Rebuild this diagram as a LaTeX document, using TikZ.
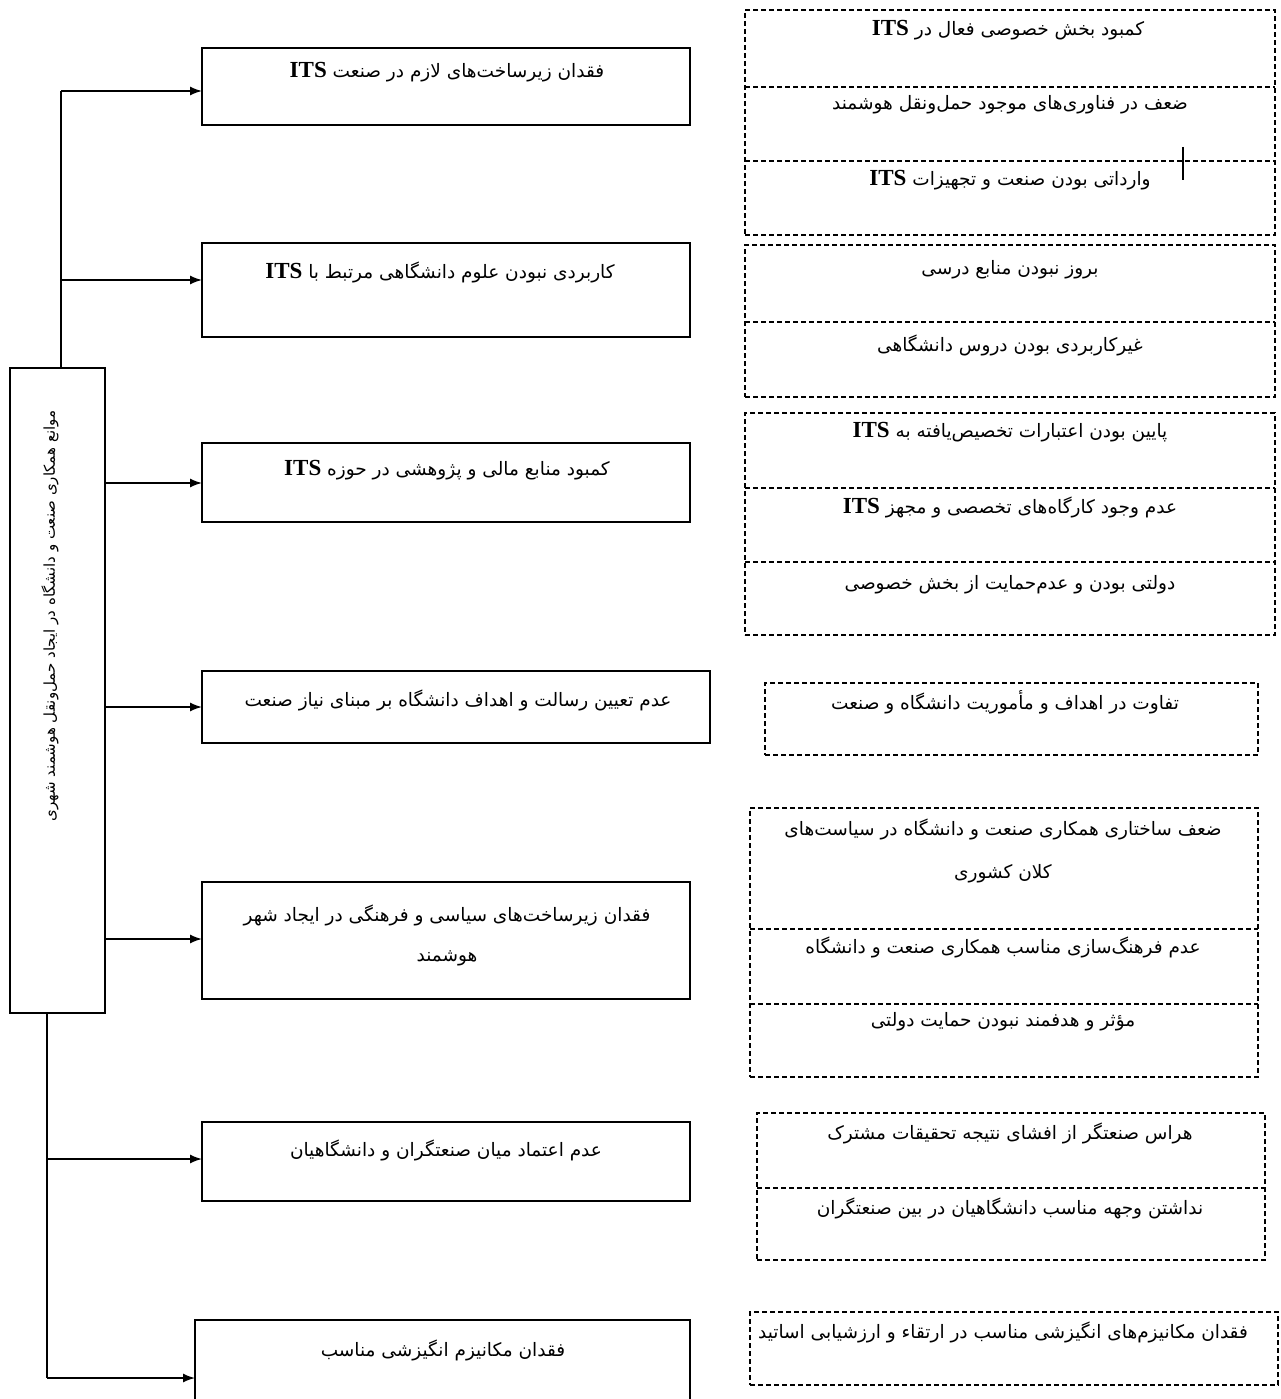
\documentclass[tikz,border=0pt]{standalone}
\usepackage{fontspec}
\usetikzlibrary{arrows.meta}
\newfontfamily\fa[Script=Arabic]{DejaVu Sans}
\newfontfamily\lat{Liberation Serif}
\TeXXeTstate=1
\newcommand{\its}{\beginL{\lat\bfseries\fontsize{23}{26}\selectfont ITS}\endL}
\newcommand{\rl}[1]{\beginR #1\endR}
\tikzset{
  solidbox/.style={draw, line width=1.5pt, inner sep=0pt, outer sep=0pt},
  dbox/.style={draw, dashed, dash pattern=on 5pt off 3pt, line width=1.2pt, inner sep=0pt, outer sep=0pt},
  dline/.style={dashed, dash pattern=on 5pt off 3pt, line width=1.2pt},
  txt/.style={font=\fa\fontsize{18.5}{22}\selectfont, inner sep=1pt, align=center},
  conn/.style={line width=1.5pt},
  arr/.style={line width=1.5pt, -{Latex[length=12pt,width=9pt]}}
}
\begin{document}
\begin{tikzpicture}[x=1pt,y=-1pt]
\useasboundingbox (0,0) rectangle (1280,1399);
% left main box
\node[solidbox, minimum width=95, minimum height=645] (main) at (57.5,690.5) {};
\node[txt, font=\fa\fontsize{15}{18}\selectfont, rotate=90] (mt) at (50,616) {\rl{موانع همکاری صنعت و دانشگاه در ایجاد حمل‌ونقل هوشمند شهری}};
% middle boxes
\node[solidbox, minimum width=488, minimum height=77] (b1) at (446,86.5) {};
\node[solidbox, minimum width=488, minimum height=94] (b2) at (446,290) {};
\node[solidbox, minimum width=488, minimum height=79] (b3) at (446,482.5) {};
\node[solidbox, minimum width=508, minimum height=72] (b4) at (456,707) {};
\node[solidbox, minimum width=488, minimum height=117] (b5) at (446,940.5) {};
\node[solidbox, minimum width=488, minimum height=79] (b6) at (446,1161.5) {};
\node[solidbox, minimum width=495, minimum height=82] (b7) at (442.5,1361) {};
\node[txt] (t1) at (447,72) {\rl{فقدان زیرساخت‌های لازم در صنعت \its}};
\node[txt] (t2) at (440,272) {\rl{کاربردی نبودن علوم دانشگاهی مرتبط با \its}};
\node[txt] (t3) at (447,470) {\rl{کمبود منابع مالی و پژوهشی در حوزه \its}};
\node[txt] (t4) at (458,700) {\rl{عدم تعیین رسالت و اهداف دانشگاه بر مبنای نیاز صنعت}};
\node[txt] (t5) at (447,935) {\rl{فقدان زیرساخت‌های سیاسی و فرهنگی در ایجاد شهر}\\[18pt]\rl{هوشمند}};
\node[txt] (t6) at (446,1150) {\rl{عدم اعتماد میان صنعتگران و دانشگاهیان}};
\node[txt] (t7) at (443,1350) {\rl{فقدان مکانیزم انگیزشی مناسب}};
% connectors
\coordinate (j1) at (61,91);
\coordinate (j2) at (61,280);
\coordinate (j3) at (105,483);
\coordinate (j4) at (105,707);
\coordinate (j5) at (105,939);
\coordinate (j6) at (47,1159);
\coordinate (j7) at (47,1378);
\draw[conn] (main.north -| j1) -- (j1);
\draw[arr] (j1) -- (j1 -| b1.west);
\draw[arr] (j2) -- (j2 -| b2.west);
\draw[arr] (j3 -| main.east) -- (j3 -| b3.west);
\draw[arr] (j4 -| main.east) -- (j4 -| b4.west);
\draw[arr] (j5 -| main.east) -- (j5 -| b5.west);
\draw[conn] (main.south -| j7) -- (j7);
\draw[arr] (j6) -- (j6 -| b6.west);
\draw[arr] (j7) -- (j7 -| b7.west);
% right dashed groups
\node[dbox, minimum width=530, minimum height=225] (gA) at (1010,122.5) {};
\draw[dline] (745,87) -- (1275,87);
\draw[dline] (745,161) -- (1275,161);
\draw[line width=1.2pt] (1183,147) -- (1183,180);
\node[txt] (a1) at (1008,30) {\rl{کمبود بخش خصوصی فعال در \its}};
\node[txt] (a2) at (1010,105) {\rl{ضعف در فناوری‌های موجود حمل‌ونقل هوشمند}};
\node[txt] (a3) at (1010,180) {\rl{وارداتی بودن صنعت و تجهیزات \its}};
\node[dbox, minimum width=530, minimum height=152] (gB) at (1010,321) {};
\draw[dline] (745,322) -- (1275,322);
\node[txt] (bb1) at (1010,270) {\rl{بروز نبودن منابع درسی}};
\node[txt] (bb2) at (1010,345) {\rl{غیرکاربردی بودن دروس دانشگاهی}};
\node[dbox, minimum width=530, minimum height=222] (gC) at (1010,524) {};
\draw[dline] (745,488) -- (1275,488);
\draw[dline] (745,562) -- (1275,562);
\node[txt] (c1) at (1010,432) {\rl{پایین بودن اعتبارات تخصیص‌یافته به \its}};
\node[txt] (c2) at (1010,507) {\rl{عدم وجود کارگاه‌های تخصصی و مجهز \its}};
\node[txt] (c3) at (1010,585) {\rl{دولتی بودن و عدم‌حمایت از بخش خصوصی}};
\node[dbox, minimum width=493, minimum height=72] (gD) at (1011.5,719) {};
\node[txt] (d1) at (1005,702) {\rl{تفاوت در اهداف و مأموریت دانشگاه و صنعت}};
\node[dbox, minimum width=508, minimum height=269] (gE) at (1004,942.5) {};
\draw[dline] (750,929) -- (1258,929);
\draw[dline] (750,1004) -- (1258,1004);
\node[txt] (e1) at (1003,851) {\rl{ضعف ساختاری همکاری صنعت و دانشگاه در سیاست‌های}\\[21pt]\rl{کلان کشوری}};
\node[txt] (e2) at (1003,947) {\rl{عدم فرهنگ‌سازی مناسب همکاری صنعت و دانشگاه}};
\node[txt] (e3) at (1003,1022) {\rl{مؤثر و هدفمند نبودن حمایت دولتی}};
\node[dbox, minimum width=508, minimum height=147] (gF) at (1011,1186.5) {};
\draw[dline] (757,1188) -- (1265,1188);
\node[txt] (f1) at (1010,1133) {\rl{هراس صنعتگر از افشای نتیجه تحقیقات مشترک}};
\node[txt] (f2) at (1010,1208) {\rl{نداشتن وجهه مناسب دانشگاهیان در بین صنعتگران}};
\node[dbox, minimum width=528, minimum height=73] (gG) at (1014,1348.5) {};
\node[txt] (g1) at (1003,1332) {\rl{فقدان مکانیزم‌های انگیزشی مناسب در ارتقاء و ارزشیابی اساتید}};
\end{tikzpicture}
\end{document}
